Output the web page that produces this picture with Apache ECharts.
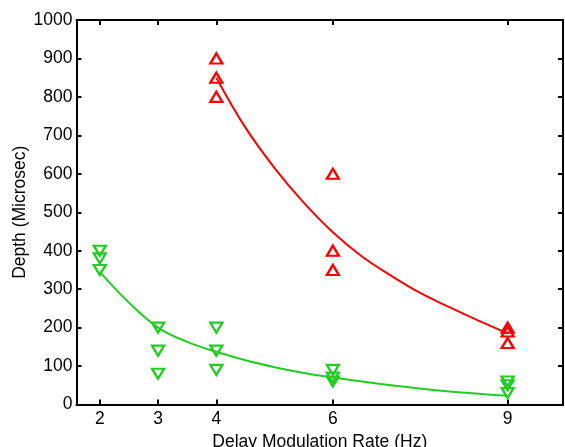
<!DOCTYPE html>
<html><head><meta charset="utf-8">
<script src="https://cdn.jsdelivr.net/npm/echarts@6/dist/echarts.min.js"></script>
<style>html,body{margin:0;padding:0;background:#fff}#c{width:565px;height:447px}</style>
</head><body><div id="c"></div>
<script>
const xTicks = [2, 3, 4, 6, 9];
const redPoints = [[4,900],[4,850],[4,800],[6,600],[6,400],[6,350],[9,200],[9,190],[9,160]];
const greenPoints = [[2,400],[2,380],[2,350],[3,200],[3,140],[3,80],[4,200],[4,140],[4,90],[6,90],[6,70],[6,60],[9,60],[9,50],[9,30]];
const redCurve = [[4,850],[4.5,720],[5,615],[5.5,525],[6,448],[6.5,385],[7,335],[7.5,290],[8,253],[8.5,218],[9,185]];
const greenCurve = [[2,345],[2.5,265],[3,200],[3.5,163],[4,137],[4.5,115],[5,97],[5.5,82],[6,70],[7,50],[8,34],[9,23]];

const RED = '#ff0000', GREEN = '#22cc22';
const font = 'Liberation Sans, Arial, sans-serif';
const chart = echarts.init(document.getElementById('c'));
const lineStyle = {color:'#000', width:2};
chart.setOption({
  animation:false,
  grid:{left:76.5, right:2, top:20, bottom:42.5, containLabel:false, outerBoundsMode:'none'},
  xAxis:[{
    type:'value', min:1.6, max:9.95, position:'bottom',
    name:'Delay Modulation Rate (Hz)', nameLocation:'middle', nameGap:29, nameMoveOverlap:false,
    nameTextStyle:{fontFamily:font, fontSize:17.5, color:'#000'},
    axisLine:{show:true, onZero:false, lineStyle},
    axisTick:{show:true, inside:true, length:5, customValues:xTicks, lineStyle},
    axisLabel:{fontFamily:font, fontSize:17.5, color:'#000', margin:6, customValues:xTicks, formatter:v=>String(v)},
    splitLine:{show:false}
  },{
    type:'value', min:1.6, max:9.95, position:'top',
    axisLine:{show:true, onZero:false, lineStyle},
    axisTick:{show:true, inside:true, length:5, customValues:xTicks, lineStyle},
    axisLabel:{show:false}, splitLine:{show:false}
  }],
  yAxis:[{
    type:'value', min:0, max:1000, interval:100, position:'left',
    name:'Depth (Microsec)', nameLocation:'middle', nameGap:47, nameMoveOverlap:false,
    nameTextStyle:{fontFamily:font, fontSize:17.5, color:'#000'},
    axisLine:{show:true, onZero:false, lineStyle},
    axisTick:{show:true, inside:true, length:5, lineStyle},
    axisLabel:{fontFamily:font, fontSize:17.5, color:'#000', margin:4, formatter:v=>String(v)},
    splitLine:{show:false}
  },{
    type:'value', min:0, max:1000, interval:100, position:'right',
    axisLine:{show:true, onZero:false, lineStyle},
    axisTick:{show:true, inside:true, length:5, lineStyle},
    axisLabel:{show:false}, splitLine:{show:false}
  }],
  series:[
    {type:'line', data:redCurve, smooth:0.4, showSymbol:false, lineStyle:{color:RED, width:2}, z:2},
    {type:'line', data:greenCurve, smooth:0.4, showSymbol:false, lineStyle:{color:GREEN, width:2}, z:2},
    {type:'scatter', data:redPoints, symbol:'triangle', symbolSize:[12,10],
      itemStyle:{color:'rgba(0,0,0,0)', borderColor:RED, borderWidth:2.3, opacity:1}, z:3},
    {type:'scatter', data:greenPoints, symbol:'triangle', symbolRotate:180, symbolSize:[12,10],
      itemStyle:{color:'rgba(0,0,0,0)', borderColor:GREEN, borderWidth:2.3, opacity:1}, z:3}
  ]
});
</script></body></html>
